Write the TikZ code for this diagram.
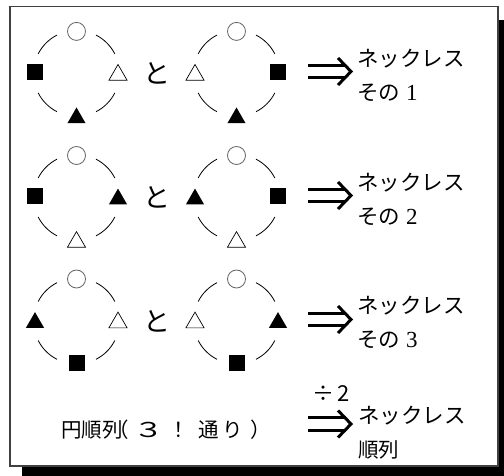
\documentclass[tikz,border=0pt]{standalone}
\usepackage{fontspec}
\setmainfont{Liberation Serif}
\newfontfamily\jp{Noto Sans CJK JP}
\usetikzlibrary{shapes.geometric,calc}

\tikzset{
  ringline/.style={line width=0.8pt, draw=black},
  symO/.style={circle, draw=gray!80!black, line width=0.8pt, minimum size=18pt, inner sep=0pt},
  symSq/.style={rectangle, fill=black, minimum size=16pt, inner sep=0pt},
  symTo/.style={regular polygon, regular polygon sides=3, draw=black, line width=0.7pt, minimum size=21pt, inner sep=0pt, yshift=-2.6pt},
  symTf/.style={regular polygon, regular polygon sides=3, fill=black, minimum size=21pt, inner sep=0pt, yshift=-2.6pt},
  implies/.style={line width=3pt, line cap=butt, line join=miter},
  jtext/.style={font=\jp\fontsize{21.5pt}{24pt}\selectfont, inner sep=0pt, anchor=west},
  totext/.style={font=\jp\fontsize{27pt}{28pt}\selectfont, inner sep=0pt},
  bottext/.style={font=\jp\fontsize{20.5pt}{22pt}\selectfont, inner sep=0pt},
}

\newcommand\necklace[6]{%
  \coordinate (#1) at #2;
  \foreach \a in {27,117,207,297}{\draw[ringline] (#1) ++(\a:43pt) arc[start angle=\a, delta angle=36, radius=43pt];}
  \node[#3] (#1-t) at ($(#1)+(0,42)$) {};
  \node[#4] (#1-l) at ($(#1)+(-41.5,1)$) {};
  \node[#5] (#1-r) at ($(#1)+(41.5,1)$) {};
  \node[#6] (#1-b) at ($(#1)+(0,-42)$) {};
}

\newcommand\bigarrow[2]{%
  \coordinate (#1s) at #2;
  \coordinate (#1e) at ($(#1s)+(43,0)$);
  \draw[implies] ($(#1s)+(0,6.3)$) -- ($(#1e)+(-5,6.3)$);
  \draw[implies] ($(#1s)+(0,-6.3)$) -- ($(#1e)+(-5,-6.3)$);
  \draw[implies] ($(#1e)+(-13,13.5)$) -- (#1e) -- ($(#1e)+(-13,-13.5)$);
}

\begin{document}
\begin{tikzpicture}[x=1pt,y=1pt]
\useasboundingbox (0,0) rectangle (504,-476);
\clip (0,0) rectangle (504,-476);
% frame with shadow
\fill[black] (22,-20) rectangle (540,-500);
\filldraw[fill=white, draw=gray!50!black, line width=1.5pt] (10,-6.5) rectangle (498,-466);

% row 1
\necklace{r1a}{(76.5,-73.4)}{symO}{symSq}{symTo}{symTf}
\necklace{r1b}{(236.5,-73.4)}{symO}{symTo}{symSq}{symTf}
\node[totext] (to1) at (157,-73) {と};
\bigarrow{ar1}{(308,-71.5)}
\node[jtext] (n1) at (357,-58.5) {ネックレス};
\node[jtext] (s1) at (357,-92.5) {その\hspace{6pt}{\rmfamily\fontsize{23pt}{24pt}\selectfont 1}};

% row 2
\necklace{r2a}{(76.5,-197.5)}{symO}{symSq}{symTf}{symTo}
\necklace{r2b}{(236.5,-197.5)}{symO}{symTf}{symSq}{symTo}
\node[totext] (to2) at (157,-197) {と};
\bigarrow{ar2}{(308,-195.5)}
\node[jtext] (n2) at (357,-182.5) {ネックレス};
\node[jtext] (s2) at (357,-216.5) {その\hspace{6pt}{\rmfamily\fontsize{23pt}{24pt}\selectfont 2}};

% row 3
\necklace{r3a}{(76.5,-321)}{symO}{symTf}{symTo}{symSq}
\necklace{r3b}{(236.5,-321)}{symO}{symTo}{symTf}{symSq}
\node[totext] (to3) at (157,-321) {と};
\bigarrow{ar3}{(308,-319.5)}
\node[jtext] (n3) at (357,-306) {ネックレス};
\node[jtext] (s3) at (357,-340) {その\hspace{6pt}{\rmfamily\fontsize{23pt}{24pt}\selectfont 3}};

% bottom line
\node[bottext, anchor=west] (c0) at (61,-430) {円順列};
\node[bottext] (c1) at (119,-430) {（};
\node[bottext] (c2) at (149,-430) {\scalebox{1.5}[1]{３}};
\node[bottext] (c3) at (179,-430) {！};
\node[bottext] (c4) at (209,-430) {通};
\node[bottext] (c5) at (233,-430) {り};
\node[bottext] (c6) at (261,-430) {）};
\node[font=\jp\fontsize{22pt}{24pt}\selectfont, inner sep=0pt] (div) at (331,-394) {÷\hspace{3pt}2};
\bigarrow{ar4}{(308,-424)}
\node[jtext] (n4) at (358,-416) {ネックレス};
\node[bottext, anchor=west] (jr) at (358,-450) {順列};
\end{tikzpicture}
\end{document}
